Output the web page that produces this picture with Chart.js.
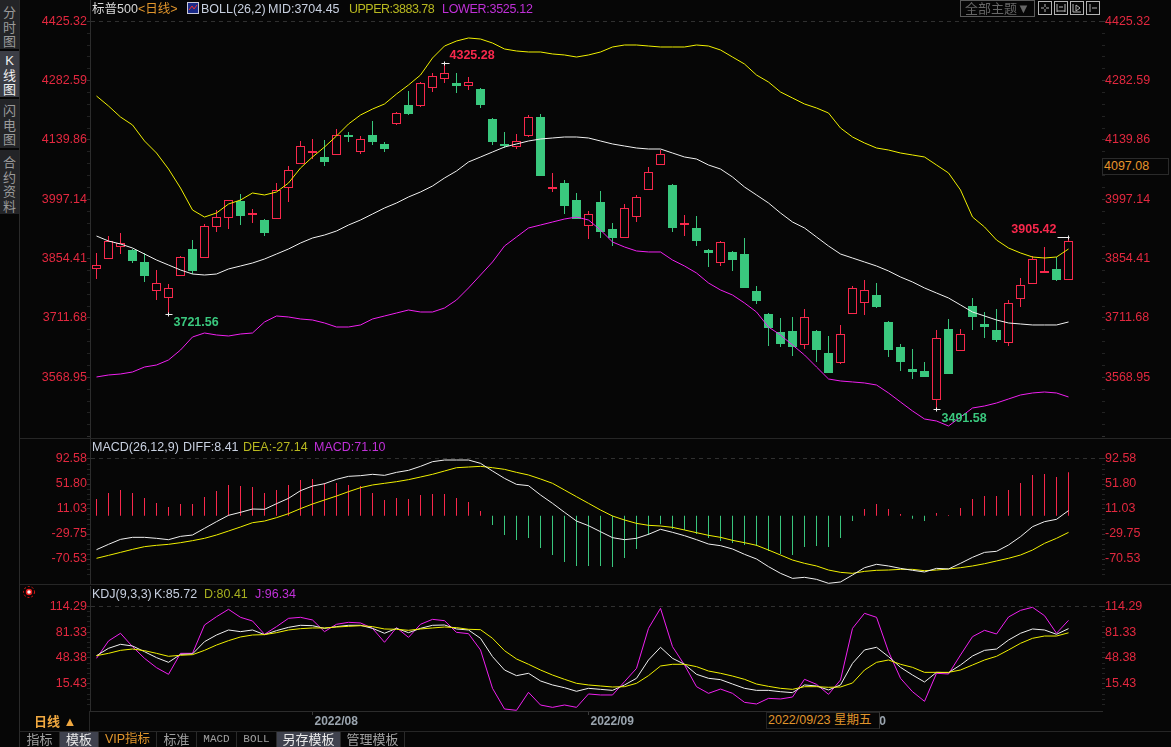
<!DOCTYPE html>
<html>
<head>
<meta charset="utf-8">
<title>标普500 日线</title>
<script src="https://cdn.jsdelivr.net/npm/chart.js@4"></script>
<style>
html,body{margin:0;padding:0;background:#060606;overflow:hidden}
body{width:1171px;height:747px;position:relative;font:12.5px "Liberation Sans","Noto Sans CJK SC",sans-serif}
canvas{position:absolute;left:0;display:block}
.t{position:absolute;white-space:nowrap;line-height:16px;height:16px}
.r{position:absolute}
.side{position:absolute;left:0;width:19px;background:#232427;color:#9a9a9a;font-size:13px;line-height:14.5px;text-align:center;box-sizing:border-box}
.tab{position:absolute;top:732px;height:15px;line-height:15px;text-align:center;color:#a0a0a0;font-size:13px;border-right:1px solid #2a2a2a;box-sizing:border-box}
</style>
</head>
<body>
<canvas id="main" width="1171" height="438" style="top:0"></canvas>
<canvas id="macd" width="1171" height="145" style="top:439px"></canvas>
<canvas id="kdj" width="1171" height="145" style="top:586px"></canvas>

<div class="r" style="left:19px;top:0;width:1px;height:747px;background:#2a2a2a"></div>
<div class="r" style="left:20px;top:438px;width:1151px;height:1px;background:#262626"></div>
<div class="r" style="left:20px;top:584px;width:1151px;height:1px;background:#262626"></div>
<div class="r" style="left:20px;top:731px;width:1151px;height:1px;background:#262626"></div>
<div class="r" style="left:89px;top:711px;width:1px;height:20px;background:#262626"></div>

<div class="side" style="top:0;height:49px;padding-top:6px">分<br>时<br>图</div>
<div class="side" style="top:51px;height:46px;padding-top:3px;background:#3b3d45;color:#f0f0f0">K<br>线<br>图</div>
<div class="side" style="top:99px;height:49px;padding-top:5px">闪<br>电<br>图</div>
<div class="side" style="top:150px;height:64px;padding-top:6px">合<br>约<br>资<br>料</div>

<span class="t" style="left:92px;top:1px;color:#d8d8d8">标普500</span>
<span class="t" style="left:138px;top:1px;color:#e0952c">&lt;日线&gt;</span>
<svg class="r" style="left:187px;top:2px" width="12" height="12"><rect x=".5" y=".5" width="11" height="11" fill="#1a2a88" stroke="#c8c8d8"/><polyline points="2,8 5,4 7,7 10,3" fill="none" stroke="#f03030"/></svg>
<span class="t" style="left:201px;top:1px;color:#c8d0e0">BOLL(26,2)</span>
<span class="t" style="left:268px;top:1px;color:#c8d0e0">MID:3704.45</span>
<span class="t" style="left:349px;top:1px;color:#b8b820;letter-spacing:-.5px">UPPER:3883.78</span>
<span class="t" style="left:442px;top:1px;color:#c030d8;letter-spacing:-.3px">LOWER:3525.12</span>

<div class="r" style="left:960px;top:0;width:73px;height:15px;border:1px solid #5a5a5a;color:#666;font-size:13px;line-height:15px;text-align:center">全部主题▼</div>
<svg class="r" style="left:1038px;top:1px" width="64" height="14" fill="none" stroke="#b4b4b4">
  <rect x=".5" y=".5" width="13" height="13"/><path d="M7 3v3M7 8v3M3 7h3M8 7h3"/>
  <rect x="16.5" y=".5" width="13" height="13"/><path d="M19 3v8M27 3v8M19 10h8M21 6h4"/>
  <rect x="32.5" y=".5" width="13" height="13"/><path d="M35 3v8h8M38 4l4 3-4 3z"/>
  <rect x="48.5" y=".5" width="13" height="13"/><path d="M52 3v8M54 7h5"/>
</svg>

<span class="t" style="left:92px;top:439px;color:#c8d0e0">MACD(26,12,9)</span>
<span class="t" style="left:183px;top:439px;color:#c8d0e0">DIFF:8.41</span>
<span class="t" style="left:243px;top:439px;color:#b8b820">DEA:-27.14</span>
<span class="t" style="left:314px;top:439px;color:#c030d8">MACD:71.10</span>

<svg class="r" style="left:22px;top:585px" width="14" height="14"><circle cx="7" cy="7" r="5.5" fill="none" stroke="#e01818" stroke-dasharray="2 2"/><circle cx="7" cy="7" r="2.5" fill="#f4f4f4" stroke="#ee1c1c" stroke-width="1.5"/></svg>
<span class="t" style="left:92px;top:586px;color:#c8d0e0">KDJ(9,3,3)</span>
<span class="t" style="left:154px;top:586px;color:#c8d0e0">K:85.72</span>
<span class="t" style="left:204px;top:586px;color:#a8b020">D:80.41</span>
<span class="t" style="left:255px;top:586px;color:#c030d8">J:96.34</span>

<span class="t" style="left:34px;top:714px;color:#f0a840;font-size:13px;font-weight:bold">日线 ▲</span>
<div class="r" style="left:766px;top:712px;width:114px;height:17px;background:#060606;border:1px solid #222;border-right-color:#3a3a3a;box-sizing:border-box;color:#e0952c;line-height:15px;font-size:12.5px;white-space:nowrap;padding-left:1px">2022/09/23 星期五</div>

<div class="r" style="left:1102px;top:158px;width:67px;height:17px;background:#060606;border:1px solid #2a2a2a;box-sizing:border-box;color:#e8952c;line-height:15px;padding-left:1px">4097.08</div>

<div class="tab" style="left:20px;width:40px">指标</div>
<div class="tab" style="left:60px;width:39px;background:#3f424e;color:#e8e8e8">模板</div>
<div class="tab" style="left:99px;width:58px;color:#e0952c;font-size:12.5px">VIP指标</div>
<div class="tab" style="left:157px;width:40px">标准</div>
<div class="tab" style="left:197px;width:40px;font:11px 'Liberation Mono',monospace;line-height:15px">MACD</div>
<div class="tab" style="left:237px;width:40px;font:11px 'Liberation Mono',monospace;line-height:15px">BOLL</div>
<div class="tab" style="left:277px;width:64px;background:#3f424e;color:#e8e8e8">另存模板</div>
<div class="tab" style="left:341px;width:64px">管理模板</div>

<script>
const tradeDates = [
  "2022/07/06","2022/07/07","2022/07/08","2022/07/11","2022/07/12","2022/07/13","2022/07/14","2022/07/15","2022/07/18","2022/07/19",
  "2022/07/20","2022/07/21","2022/07/22","2022/07/25","2022/07/26","2022/07/27","2022/07/28","2022/07/29","2022/08/01","2022/08/02",
  "2022/08/03","2022/08/04","2022/08/05","2022/08/08","2022/08/09","2022/08/10","2022/08/11","2022/08/12","2022/08/15","2022/08/16",
  "2022/08/17","2022/08/18","2022/08/19","2022/08/22","2022/08/23","2022/08/24","2022/08/25","2022/08/26","2022/08/29","2022/08/30",
  "2022/08/31","2022/09/01","2022/09/02","2022/09/06","2022/09/07","2022/09/08","2022/09/09","2022/09/12","2022/09/13","2022/09/14",
  "2022/09/15","2022/09/16","2022/09/19","2022/09/20","2022/09/21","2022/09/22","2022/09/23","2022/09/26","2022/09/27","2022/09/28",
  "2022/09/29","2022/09/30","2022/10/03","2022/10/04","2022/10/05","2022/10/06","2022/10/07","2022/10/10","2022/10/11","2022/10/12",
  "2022/10/13","2022/10/14","2022/10/17","2022/10/18","2022/10/19","2022/10/20","2022/10/21","2022/10/24","2022/10/25","2022/10/26",
  "2022/10/27","2022/10/28"];

const opens = [
  3829.5,3853.5,3882.4,3875.2,3846.3,3776.5,3759.7,3812.6,3877.6,3855.9,
  3930.5,3952.1,3993.0,3959.4,3947.3,3949.7,4024.3,4082.0,4108.5,4098.9,
  4103.7,4151.8,4110.9,4151.8,4130.2,4178.3,4224.0,4221.6,4264.9,4286.5,
  4276.9,4269.7,4262.5,4190.3,4130.2,4122.9,4149.4,4195.1,4021.9,4036.3,
  3995.4,3932.9,3990.6,3925.7,3904.0,3954.5,4019.5,4079.6,4031.5,3935.3,
  3928.1,3875.2,3843.9,3870.4,3865.5,3776.5,3721.2,3677.9,3680.3,3646.6,
  3680.3,3627.4,3603.4,3721.2,3747.7,3766.9,3702.0,3641.8,3588.9,3584.1,
  3514.3,3685.1,3632.2,3740.5,3697.2,3682.7,3651.5,3757.3,3793.4,3819.8,
  3829.5,3803.0];
const closes = [
  3839.1,3896.8,3892.0,3848.7,3812.6,3795.8,3783.8,3858.3,3824.7,3932.9,
  3954.5,3995.4,3957.0,3964.2,3916.1,4019.5,4067.6,4125.3,4113.3,4086.9,
  4151.8,4147.0,4142.2,4135.0,4118.1,4204.7,4202.3,4276.9,4293.7,4301.0,
  4269.7,4279.3,4224.0,4135.0,4125.3,4137.4,4195.1,4053.2,4026.7,3981.0,
  3949.7,3961.8,3918.5,3904.0,3976.2,4002.7,4062.8,4106.1,3928.1,3940.1,
  3896.8,3868.0,3894.4,3851.1,3783.8,3752.5,3687.5,3649.0,3641.8,3714.0,
  3634.6,3579.3,3673.1,3783.8,3779.0,3738.0,3634.6,3605.8,3581.7,3569.7,
  3663.5,3576.9,3673.1,3714.0,3689.9,3658.7,3747.7,3791.0,3853.5,3824.7,
  3803.0,3896.8];
const highs = [
  3868.0,3908.8,3916.1,3877.6,3868.0,3827.1,3793.4,3860.7,3899.2,3937.7,
  3971.4,3995.4,4009.9,3973.8,3949.7,4036.3,4077.2,4137.4,4142.2,4139.8,
  4166.2,4159.0,4149.4,4185.5,4135.0,4207.1,4257.7,4279.3,4301.0,4325.28,
  4301.0,4291.3,4264.9,4192.7,4159.0,4154.2,4199.9,4202.3,4060.4,4043.6,
  4012.3,3969.0,4017.1,3940.1,3985.8,4007.5,4074.8,4115.7,4033.9,3959.4,
  3957.0,3877.6,3896.8,3872.8,3904.0,3788.6,3723.6,3711.6,3714.0,3733.2,
  3682.7,3668.3,3694.8,3788.6,3803.0,3795.8,3704.4,3649.0,3637.0,3605.8,
  3682.7,3709.2,3685.1,3759.7,3726.0,3733.2,3754.9,3807.8,3860.7,3882.4,
  3858.3,3905.42];
const lows = [
  3805.4,3853.5,3865.5,3843.9,3798.2,3754.9,3721.56,3812.6,3817.4,3855.9,
  3918.5,3925.7,3935.3,3940.1,3908.8,3949.7,3990.6,4082.0,4094.1,4077.2,
  4103.7,4135.0,4106.1,4127.8,4110.9,4175.9,4199.9,4219.2,4255.3,4276.9,
  4252.8,4260.1,4216.8,4127.8,4120.5,4118.1,4147.0,4053.2,4014.7,3961.8,
  3949.7,3901.6,3904.0,3884.8,3904.0,3942.5,4019.5,4079.6,3918.5,3908.8,
  3884.8,3834.3,3836.7,3824.7,3783.8,3745.3,3644.2,3641.8,3620.2,3637.0,
  3605.8,3579.3,3600.9,3721.2,3718.8,3735.6,3617.8,3584.1,3564.9,3569.7,
  3491.58,3576.9,3632.2,3682.7,3663.5,3653.9,3644.2,3738.0,3793.4,3819.8,
  3800.6,3803.0];

const bollUpper = [
  4245.6,4221.6,4195.1,4175.9,4137.4,4108.5,4070.0,4024.3,3971.4,3954.5,
  3964.2,3985.8,3995.4,4012.3,4007.5,4014.7,4036.3,4072.4,4098.9,4122.9,
  4149.4,4178.3,4199.9,4214.3,4226.4,4250.4,4272.1,4296.1,4337.0,4365.9,
  4377.9,4385.2,4382.7,4373.1,4358.7,4353.9,4351.5,4351.5,4346.7,4344.3,
  4339.4,4344.3,4351.5,4363.5,4368.3,4368.3,4365.9,4363.5,4363.5,4363.5,
  4368.3,4365.9,4356.3,4339.4,4322.6,4296.1,4279.3,4255.3,4240.8,4226.4,
  4216.8,4204.7,4168.6,4147.0,4132.6,4120.5,4115.7,4108.5,4103.7,4098.9,
  4079.6,4060.4,4019.5,3954.5,3930.5,3899.2,3880.0,3868.0,3858.3,3855.9,
  3858.3,3877.6];
const bollMid = [
  3908.8,3896.8,3889.6,3880.0,3865.5,3851.1,3839.1,3827.1,3817.4,3815.0,
  3817.4,3829.5,3836.7,3843.9,3853.5,3865.5,3877.6,3892.0,3904.0,3911.2,
  3920.9,3935.3,3947.3,3961.8,3976.2,3988.2,4002.7,4014.7,4029.1,4048.4,
  4065.2,4086.9,4098.9,4110.9,4122.9,4130.2,4137.4,4142.2,4144.6,4147.0,
  4147.0,4144.6,4137.4,4130.2,4125.3,4120.5,4118.1,4118.1,4108.5,4098.9,
  4094.1,4079.6,4070.0,4050.8,4026.7,4007.5,3988.2,3964.2,3942.5,3928.1,
  3906.4,3884.8,3865.5,3855.9,3846.3,3836.7,3824.7,3810.2,3798.2,3783.8,
  3771.7,3759.7,3742.9,3726.0,3716.4,3706.8,3699.6,3697.2,3694.8,3694.8,
  3694.8,3702.0];
const bollLower = [
  3569.7,3574.5,3576.9,3581.7,3593.7,3598.5,3610.6,3634.6,3665.9,3675.5,
  3670.7,3668.3,3673.1,3675.5,3702.0,3716.4,3714.0,3709.2,3706.8,3699.6,
  3689.9,3689.9,3694.8,3709.2,3716.4,3723.6,3730.8,3726.0,3726.0,3735.6,
  3754.9,3783.8,3815.0,3846.3,3884.8,3906.4,3928.1,3935.3,3942.5,3949.7,
  3954.5,3947.3,3923.3,3894.4,3882.4,3872.8,3870.4,3870.4,3851.1,3836.7,
  3819.8,3795.8,3779.0,3766.9,3747.7,3726.0,3689.9,3670.7,3646.6,3622.6,
  3593.7,3564.9,3560.1,3557.7,3555.3,3550.4,3531.2,3509.5,3487.9,3468.6,
  3463.8,3451.8,3473.4,3495.1,3499.9,3507.1,3516.8,3526.4,3531.2,3533.6,
  3531.2,3521.6];

const macdHist = [
  27.3,37.1,42.0,37.1,29.0,20.8,14.3,19.2,19.2,30.6,
  40.4,50.2,48.5,46.9,37.1,42.0,50.2,58.3,59.9,53.4,
  53.4,50.2,48.5,37.1,25.7,29.0,27.3,33.9,35.5,35.5,
  29.0,22.4,7.8,-15.1,-31.4,-39.6,-36.3,-52.6,-64.0,-75.4,
  -81.9,-81.9,-81.9,-83.6,-68.9,-54.2,-31.4,-14.0,-21.6,-23.2,
  -29.8,-36.3,-41.2,-44.4,-47.7,-49.3,-57.5,-62.4,-64.0,-51.0,
  -49.3,-51.0,-36.3,-8.6,11.0,19.2,11.0,2.9,-4.7,-8.6,
  4.5,1.2,12.6,27.3,32.2,32.2,42.0,53.4,66.5,68.1,
  63.2,71.10];
const macdDiff = [
  -55.3,-46.6,-38.5,-35.2,-35.2,-36.8,-39.0,-33.6,-31.4,-20.5,
  -9.6,0.7,5.6,11.0,10.5,19.7,28.4,40.9,48.5,52.3,
  59.4,64.3,65.4,67.6,65.9,70.8,74.1,80.6,88.2,90.9,
  90.9,90.9,85.5,73.0,61.0,51.2,49.1,33.9,20.3,5.6,
  -8.6,-16.2,-26.0,-35.7,-39.0,-36.8,-30.3,-22.1,-27.0,-32.5,
  -39.0,-46.1,-48.8,-54.2,-62.9,-70.5,-83.0,-93.9,-102.1,-100.4,
  -103.7,-110.2,-108.0,-96.6,-84.7,-79.2,-81.9,-85.8,-89.0,-91.7,
  -85.8,-86.8,-77.6,-67.8,-59.7,-58.0,-47.7,-34.1,-17.8,-9.6,
  -5.8,8.41];
const macdDea = [
  -69.4,-64.6,-59.7,-54.8,-50.4,-48.2,-46.6,-43.9,-40.6,-36.8,
  -31.4,-24.9,-18.3,-11.3,-8.6,-3.1,3.4,11.6,19.2,25.7,
  32.2,39.3,45.8,50.2,52.9,55.6,58.9,63.2,67.6,73.0,
  78.4,79.5,80.6,78.4,75.7,70.8,66.5,60.0,52.9,42.0,
  31.1,20.3,9.4,-0.4,-6.9,-12.4,-15.6,-16.7,-18.9,-23.2,
  -27.6,-31.9,-35.2,-40.1,-43.9,-48.2,-55.9,-64.0,-72.2,-77.6,
  -81.9,-88.5,-92.3,-93.9,-90.7,-89.0,-88.5,-87.4,-87.4,-89.6,
  -88.5,-86.8,-84.7,-81.9,-78.2,-73.8,-69.4,-64.0,-55.9,-45.0,
  -36.8,-27.14];

const kdjK = [
  51.2,60.6,65.7,63.6,56.3,48.7,42.7,52.9,53.4,69.1,
  77.6,84.0,81.9,84.0,78.1,83.2,87.4,90.0,89.5,86.1,
  88.3,90.0,90.0,86.1,79.8,86.1,80.6,86.1,90.0,90.4,
  85.3,84.0,73.4,50.0,32.9,25.7,28.7,18.9,13.8,10.3,
  5.7,9.5,8.2,6.9,13.8,22.3,45.7,61.9,47.8,40.2,
  27.4,22.3,20.6,15.0,9.5,6.9,6.9,5.2,4.0,13.8,
  12.5,7.4,13.8,41.4,58.5,61.9,50.0,36.3,26.5,17.6,
  29.9,29.5,39.3,50.8,58.0,59.7,71.2,79.8,85.3,84.0,
  78.5,85.72];
const kdjD = [
  51.2,54.2,58.0,59.7,57.6,54.2,50.4,51.7,52.5,58.0,
  64.8,70.4,75.1,77.6,78.1,80.6,84.0,85.7,86.6,86.6,
  87.8,88.7,89.5,88.3,85.3,84.9,83.6,85.3,86.6,87.8,
  87.0,84.9,84.4,73.4,57.6,47.0,40.2,32.9,26.5,21.0,
  15.9,13.8,12.5,11.2,11.6,15.9,25.7,38.0,40.2,40.2,
  37.2,31.6,28.7,25.2,21.0,15.0,12.0,9.5,8.2,11.6,
  11.6,10.8,11.2,16.3,32.9,42.7,45.7,40.2,36.3,29.9,
  29.9,29.9,32.9,39.3,45.7,50.4,58.5,67.0,73.4,76.3,
  76.3,80.41];
const kdjJ = [
  47.8,70.0,79.8,62.7,47.8,35.9,27.4,54.2,54.2,90.4,
  101.0,110.4,100.2,95.5,78.5,88.3,98.9,100.2,96.8,81.9,
  91.3,93.8,93.0,86.1,68.3,87.0,74.6,91.3,97.6,95.9,
  81.0,79.3,58.5,9.5,-16.9,-18.6,4.4,-11.8,-14.8,-11.8,
  -14.8,2.3,1.0,1.0,18.0,35.0,86.1,111.7,62.7,39.3,
  11.6,3.1,8.6,3.1,-8.4,-10.5,-3.3,-4.1,-1.6,21.0,
  14.6,1.8,20.1,86.1,105.3,100.2,56.3,22.3,5.2,-7.1,
  28.7,27.8,52.1,75.5,83.6,78.9,100.6,109.1,113.0,102.3,
  79.8,96.34];

const priceTicks = [4425.32,4282.59,4139.86,3997.14,3854.41,3711.68,3568.95];
const macdTicks = [92.58,51.80,11.03,-29.75,-70.53];
const kdjTicks = [114.29,81.33,48.38,15.43];

const RED = "#f8284c", GREEN = "#3ac87e", LABEL = "#e2283f";
const WHITE = "#f0f0f0", YELLOW = "#f0f000", MAGENTA = "#f020f0";
const BG = "#060606", AXIS = "#2c2c2c";

const xy = arr => arr.map((v, i) => ({x: i, y: v}));
const isUp = i => closes[i] >= opens[i];

// minor marks between the labelled ticks, axis decoration only
function allTicks(majors, extra) {
  const step = (majors[0] - majors[1]) / 5;
  const out = [];
  for (let i = 0; i < (majors.length - 1) * 5 + 1 + extra; i++) {
    out.push({value: i % 5 === 0 && i / 5 < majors.length ? majors[i / 5] : majors[0] - step * i});
  }
  return out;
}

function yAxis(min, max, majors, extra, side) {
  const left = side === "left";
  return {
    type: "linear", position: side, min, max,
    afterFit: s => {
      s.width = left ? 90 : 69;
      s.paddingTop = 0;
      s.paddingBottom = 0;
    },
    afterBuildTicks: s => { s.ticks = allTicks(majors, extra); },
    ticks: {
      autoSkip: false, padding: 0, color: LABEL,
      font: {family: "Liberation Sans", size: 12.5},
      callback: v => majors.includes(v) ? v.toFixed(2) : ""
    },
    border: {display: left, color: AXIS, dash: [4, 4]},
    grid: {
      drawOnChartArea: left, drawTicks: true, tickLength: 3,
      color: c => c.index === 0 ? "#303030" : "rgba(0,0,0,0)",
      tickColor: c => c.index % 5 === 0 ? "#303030" : "#222222",
      tickWidth: 1
    }
  };
}

function xAxis(show) {
  const firsts = tradeDates.map((d, i) => i).filter(i => i > 0 && tradeDates[i].slice(5, 7) !== tradeDates[i - 1].slice(5, 7));
  return {
    type: "linear", display: show, offset: false, min: -0.5417, max: 83.79,
    afterFit: s => {
      s.height = show ? 20 : 0;
      s.paddingLeft = 0;
      s.paddingRight = 0;
    },
    afterBuildTicks: s => { s.ticks = firsts.map(v => ({value: v})); },
    ticks: {
      autoSkip: false, maxRotation: 0, align: "start", labelOffset: 2, padding: -1, color: "#9aa4ae",
      font: {family: "Liberation Sans", size: 12, weight: "bold"},
      callback: v => tradeDates[v].slice(0, 7)
    },
    border: {color: AXIS},
    grid: {offset: false, drawOnChartArea: false, tickLength: 4, tickColor: "#3a3a3a"}
  };
}

function baseOptions(min, max, majors, extra, showX) {
  return {
    responsive: false, animation: false, events: [],
    layout: {padding: 0},
    plugins: {legend: {display: false}, tooltip: {enabled: false}},
    scales: {
      x: xAxis(showX),
      y: yAxis(min, max, majors, extra, "left"),
      y2: yAxis(min, max, majors, extra, "right")
    }
  };
}

const line = (data, color, order) => ({
  type: "line", data: xy(data), borderColor: color, borderWidth: 1,
  pointRadius: 0, tension: 0, order, yAxisID: "y"
});

// high/low labels next to the wick ends
const extremeLabels = [
  {i: 29, value: highs[29], text: "4325.28", color: RED, dx: 5, dy: -8, align: "left", left: 3, right: 5},
  {i: 6, value: lows[6], text: "3721.56", color: GREEN, dx: 5, dy: 8, align: "left", left: 3, right: 4},
  {i: 70, value: lows[70], text: "3491.58", color: GREEN, dx: 5, dy: 9, align: "left", left: 3, right: 4},
  {i: 81, value: highs[81], text: "3905.42", color: RED, dx: -12, dy: -8, align: "right", left: 11, right: 1}
];

const extremesPlugin = {
  id: "extremes",
  afterDatasetsDraw(chart) {
    const {ctx, scales} = chart;
    ctx.save();
    extremeLabels.forEach(m => {
      const x = scales.x.getPixelForValue(m.i);
      const y = Math.round(scales.y.getPixelForValue(m.value)) + 0.5;
      ctx.strokeStyle = "#f0f0f0";
      ctx.lineWidth = 1;
      ctx.beginPath();
      ctx.moveTo(x - m.left, y);
      ctx.lineTo(x + m.right, y);
      ctx.moveTo(x, y - 2);
      ctx.lineTo(x, y + 2);
      ctx.stroke();
      ctx.font = "bold 12.5px 'Liberation Sans'";
      ctx.textAlign = m.align;
      ctx.textBaseline = "middle";
      ctx.fillStyle = m.color;
      ctx.fillText(m.text, x + m.dx, y + m.dy);
    });
    ctx.restore();
  }
};

new Chart(document.getElementById("main"), {
  type: "bar",
  data: {
    datasets: [
      {type: "bar", order: 3, grouped: false, barThickness: 1, borderWidth: 0, inflateAmount: 0, yAxisID: "y",
        data: highs.map((h, i) => ({x: i, y: [lows[i], h]})),
        backgroundColor: highs.map((h, i) => isUp(i) ? RED : GREEN)},
      {type: "bar", order: 2, grouped: false, barThickness: 9, borderWidth: 1, inflateAmount: 0, borderSkipped: false, yAxisID: "y",
        data: opens.map((o, i) => ({x: i, y: [o, closes[i]]})),
        backgroundColor: opens.map((o, i) => isUp(i) ? BG : GREEN),
        borderColor: opens.map((o, i) => isUp(i) ? RED : GREEN)},
      line(bollUpper, YELLOW, 1),
      line(bollMid, WHITE, 1),
      line(bollLower, MAGENTA, 1)
    ]
  },
  options: baseOptions(3422.91, 4476.56, priceTicks, 7, false),
  plugins: [extremesPlugin]
});

new Chart(document.getElementById("macd"), {
  type: "bar",
  data: {
    datasets: [
      {type: "bar", order: 2, grouped: false, barThickness: 1, borderWidth: 0, inflateAmount: 0, yAxisID: "y",
        data: xy(macdHist),
        backgroundColor: macdHist.map(v => v >= 0 ? RED : GREEN)},
      line(macdDiff, WHITE, 1),
      line(macdDea, YELLOW, 1)
    ]
  },
  options: baseOptions(-111.3, 125.2, macdTicks, 3, false)
});

new Chart(document.getElementById("kdj"), {
  type: "line",
  data: {
    datasets: [
      line(kdjJ, MAGENTA, 3),
      line(kdjD, YELLOW, 1),
      line(kdjK, WHITE, 2)
    ]
  },
  options: baseOptions(-19.46, 140.2, kdjTicks, 4, true)
});
</script>
</body>
</html>
